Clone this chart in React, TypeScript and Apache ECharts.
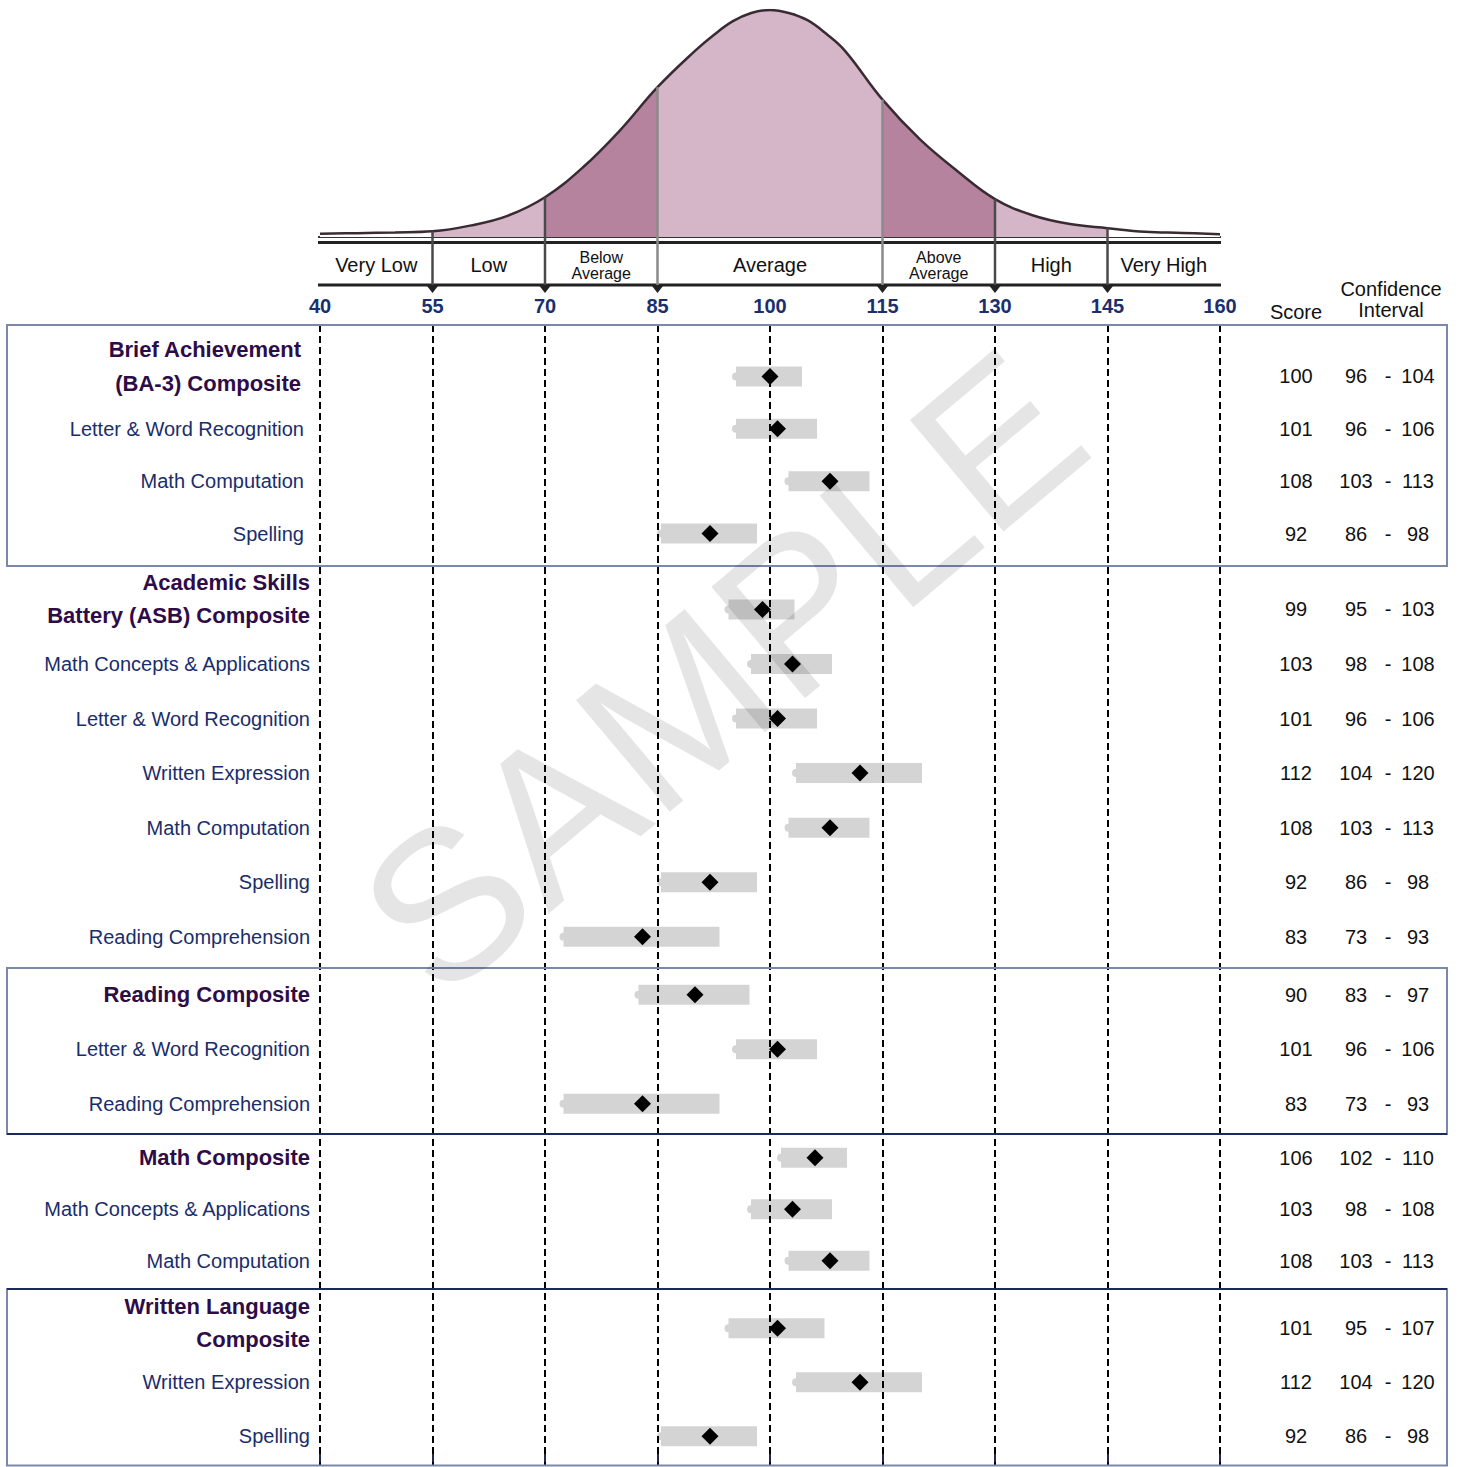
import React, { useEffect, useRef } from 'react';
import * as echarts from 'echarts';

// ---------- data ----------
const rowLabels = [
  'Brief Achievement\n(BA-3) Composite',
  'Letter & Word Recognition',
  'Math Computation',
  'Spelling',
  'Academic Skills\nBattery (ASB) Composite',
  'Math Concepts & Applications',
  'Letter & Word Recognition',
  'Written Expression',
  'Math Computation',
  'Spelling',
  'Reading Comprehension',
  'Reading Composite',
  'Letter & Word Recognition',
  'Reading Comprehension',
  'Math Composite',
  'Math Concepts & Applications',
  'Math Computation',
  'Written Language\nComposite',
  'Written Expression',
  'Spelling',
];
const isComposite = [true, false, false, false, true, false, false, false, false, false, false, true, false, false, true, false, false, true, false, false];
const scores = [100, 101, 108, 92, 99, 103, 101, 112, 108, 92, 83, 90, 101, 83, 106, 103, 108, 101, 112, 92];
const ciLow = [96, 96, 103, 86, 95, 98, 96, 104, 103, 86, 73, 83, 96, 73, 102, 98, 103, 95, 104, 86];
const ciHigh = [104, 106, 113, 98, 103, 108, 106, 120, 113, 98, 93, 97, 106, 93, 110, 108, 113, 107, 120, 98];

// first row of each group, and whether the group is boxed
const groupStarts = [0, 4, 11, 14, 17];
const groupBoxed = [true, false, true, false, true];

// score bands
const bandEdges = [40, 55, 70, 85, 115, 130, 145, 160];
const bandNames = ['Very Low', 'Low', 'Below\nAverage', 'Average', 'Above\nAverage', 'High', 'Very High'];
const dividerScores = [55, 70, 85, 115, 130, 145];

// bell curve heights (percent of peak)
const curveScores = [40, 45, 50, 55, 60, 65, 70, 75, 80, 85, 90, 92.5, 95, 97.5, 100, 102.5, 105, 107.5, 110, 115, 120, 125, 130, 135, 140, 145, 150, 155, 160];
const curveHeights = [1.4, 1.7, 2, 2.5, 5, 9.3, 17.5, 30.5, 47, 66, 82, 89, 95, 98.7, 100, 98.7, 95.5, 89.5, 82, 60.5, 43, 29, 16.7, 9.6, 5.7, 3.9, 2.3, 1.8, 1.2];

// ---------- layout (pixels) ----------
const FONT = "'Liberation Sans', Arial, Helvetica, sans-serif";
const LIGHT = '#d5b6c8';
const DARK = '#b6839f';
const BOX = '#7b88aa';
const NAVY = '#1b2a5c';
const PLOT_LEFT = 320;
const PLOT_RIGHT = 245;
const groupGridTop = [350.2, 582.2, 967.6, 1132, 1301.3];
const groupGridHeight = [209.6, 381.8, 163.5, 154.5, 162];
const boxBounds = [325, 566, 968, 1134, 1289, 1465.5];

export default function App() {
  const ref = useRef<HTMLDivElement>(null);

  useEffect(() => {
    const chart = echarts.init(ref.current!, null, { renderer: 'svg' });
    const curveData = curveScores.map((s, i) => [s, curveHeights[i]]);
    const nG = groupStarts.length;
    const groupRows = groupStarts.map((s, k) => {
      const e = k + 1 < nG ? groupStarts[k + 1] : rowLabels.length;
      const arr: number[] = [];
      for (let i = s; i < e; i++) arr.push(i);
      return arr;
    });

    const labelFormatter = (v: string) => {
      const k = Number(v);
      const first = k < groupStarts[1];
      const last = k >= groupStarts[nG - 1];
      const text = rowLabels[k];
      if (isComposite[k]) {
        const st = first ? 'c1' : 'c';
        if (text.indexOf('\n') >= 0) return `{${st}|${text}}\n{${last ? 'e2' : 'e'}| }`;
        return `{${st}|${text}}`;
      }
      return `{${first ? 's1' : 's'}|${text}}`;
    };
    const tableFormatter = (v: string) => {
      const k = Number(v);
      return `{s|${scores[k]}}{l|${ciLow[k]}}{d|-}{h|${ciHigh[k]}}`;
    };
    const tStyle = { fontSize: 20, color: '#111', fontFamily: FONT, align: 'center' };

    const grids: any[] = [
      { left: PLOT_LEFT, right: PLOT_RIGHT, top: 10, height: 227, outerBoundsMode: 'none' },
      { left: PLOT_LEFT, right: PLOT_RIGHT, top: 325, bottom: 1, outerBoundsMode: 'none' },
    ];
    const xAxes: any[] = [
      { gridIndex: 0, type: 'value', min: 40, max: 160, show: false },
      {
        gridIndex: 1, type: 'value', min: 40, max: 160, interval: 15, position: 'top', offset: -4,
        axisLine: { show: false },
        axisTick: { show: true, length: 8, lineStyle: { color: '#1e2a55', width: 2 } },
        axisLabel: {
          margin: 13, color: '#1b2f6e', fontSize: 20, fontWeight: 'bold', fontFamily: FONT,
          showMinLabel: true, showMaxLabel: true,
        },
        splitLine: { show: true, lineStyle: { color: '#000', width: 2, type: [7, 4] } },
      },
    ];
    const yAxes: any[] = [
      { gridIndex: 0, type: 'value', min: 0, max: 100, show: false },
      { gridIndex: 1, type: 'value', min: 0, max: 1, show: false },
    ];
    const series: any[] = [
      {
        type: 'line', xAxisIndex: 0, yAxisIndex: 0, data: curveData, smooth: 0.4, symbol: 'none',
        lineStyle: { width: 0 }, areaStyle: { opacity: 1 }, z: 1, silent: true,
      },
      {
        type: 'line', xAxisIndex: 0, yAxisIndex: 0, data: curveData, smooth: 0.4, symbol: 'none',
        lineStyle: { color: '#3a2b33', width: 2.5 }, itemStyle: { color: '#3a2b33' }, z: 3, silent: true,
      },
    ];

    groupRows.forEach((rows, k) => {
      const gi = 2 + k;
      const cats = rows.map(String);
      grids.push({ left: PLOT_LEFT, right: PLOT_RIGHT, top: groupGridTop[k], height: groupGridHeight[k], outerBoundsMode: 'none' });
      xAxes.push({ gridIndex: gi, type: 'value', min: 40, max: 160, show: false });
      const yl = yAxes.length;
      yAxes.push({
        gridIndex: gi, type: 'category', data: cats, inverse: true,
        axisLine: { show: false }, axisTick: { show: false }, splitLine: { show: false },
        axisLabel: {
          interval: 0, margin: 10, formatter: labelFormatter,
          rich: {
            c: { fontSize: 22, fontWeight: 'bold', color: '#2e0c47', lineHeight: 33, fontFamily: FONT },
            c1: { fontSize: 22, fontWeight: 'bold', color: '#2e0c47', lineHeight: 34, fontFamily: FONT, padding: [0, 9, 0, 0] },
            s: { fontSize: 20, color: '#1a2d6b', lineHeight: 24, fontFamily: FONT },
            s1: { fontSize: 20, color: '#1a2d6b', lineHeight: 24, fontFamily: FONT, padding: [0, 6, 0, 0] },
            e: { fontSize: 1, lineHeight: 20 },
            e2: { fontSize: 1, lineHeight: 10 },
          },
        },
      });
      yAxes.push({
        gridIndex: gi, type: 'category', data: cats, inverse: true, position: 'right',
        axisLine: { show: false }, axisTick: { show: false }, splitLine: { show: false },
        axisLabel: {
          interval: 0, margin: 46, formatter: tableFormatter,
          rich: {
            s: { ...tStyle, width: 60 },
            l: { ...tStyle, width: 60 },
            d: { ...tStyle, width: 4 },
            h: { ...tStyle, width: 56 },
          },
        },
      });
      series.push({
        type: 'custom', xAxisIndex: gi, yAxisIndex: yl,
        data: rows.map((i, j) => [ciLow[i], ciHigh[i], j]),
        encode: { x: [0, 1], y: 2 },
        renderItem: (params: any, api: any) => {
          const a = api.coord([api.value(0), api.value(2)]);
          const b = api.coord([api.value(1), api.value(2)]);
          const h = 20;
          const x0 = a[0] - 4;
          return {
            type: 'group',
            children: [
              { type: 'rect', shape: { x: x0, y: a[1] - h / 2, width: b[0] - x0 + 2, height: h }, style: { fill: 'rgba(0,0,0,0.17)' } },
              { type: 'sector', shape: { cx: x0, cy: a[1], r0: 0, r: 4, startAngle: Math.PI / 2, endAngle: (Math.PI * 3) / 2, clockwise: true }, style: { fill: 'rgba(0,0,0,0.17)' } },
            ],
          };
        },
        z: 2,
      });
      series.push({
        type: 'scatter', xAxisIndex: gi, yAxisIndex: yl,
        data: rows.map((i, j) => [scores[i], j]),
        symbol: 'diamond', symbolSize: 17, itemStyle: { color: '#000', opacity: 1 }, z: 5,
      });
    });

    const option: any = {
      animation: false,
      textStyle: { fontFamily: FONT },
      grid: grids,
      xAxis: xAxes,
      yAxis: yAxes,
      visualMap: {
        type: 'piecewise', show: false, seriesIndex: 0, dimension: 0,
        pieces: [
          { gte: 40, lt: 55, color: '#ffffff' },
          { gte: 55, lt: 70, color: LIGHT },
          { gte: 70, lt: 85, color: DARK },
          { gte: 85, lt: 115, color: LIGHT },
          { gte: 115, lt: 130, color: DARK },
          { gte: 130, lt: 145, color: LIGHT },
          { gte: 145, lte: 160, color: '#ffffff' },
        ],
      },
      series,
    };
    chart.setOption(option);

    // ----- decorations positioned through the library's scales -----
    const xPix = (s: number) => chart.convertToPixel({ xAxisIndex: 0 } as any, s) as number;
    const curvePix = (s: number) => {
      const k = curveScores.indexOf(s);
      return chart.convertToPixel({ xAxisIndex: 0, yAxisIndex: 0 } as any, [s, curveHeights[k]]) as number[];
    };

    const xL = xPix(40) - 2;
    const xR = xPix(160) + 1;
    const g: any[] = [];

    g.push({ type: 'line', shape: { x1: xL, y1: 237, x2: xR, y2: 237 }, style: { stroke: '#333', lineWidth: 2 } });
    g.push({ type: 'line', shape: { x1: xL, y1: 242.5, x2: xR, y2: 242.5 }, style: { stroke: '#222', lineWidth: 3 } });
    g.push({ type: 'line', shape: { x1: xL, y1: 285, x2: xR, y2: 285 }, style: { stroke: '#222', lineWidth: 3 } });

    dividerScores.forEach((s) => {
      const p = curvePix(s);
      const light = s === 85 || s === 115;
      g.push({ type: 'line', z: 4, shape: { x1: p[0], y1: p[1], x2: p[0], y2: 285 }, style: { stroke: light ? '#8a8a8a' : '#4a4a4a', lineWidth: 2.5 } });
      g.push({ type: 'polygon', shape: { points: [[p[0] - 5.5, 286], [p[0] + 5.5, 286], [p[0], 293]] }, style: { fill: '#222' } });
    });

    bandNames.forEach((name, i) => {
      const cx = xPix((bandEdges[i] + bandEdges[i + 1]) / 2);
      const two = name.indexOf('\n') >= 0;
      g.push({
        type: 'text', x: cx, y: 265,
        style: {
          text: name, fill: '#111', fontFamily: FONT, fontSize: two ? 16 : 20, lineHeight: two ? 16 : 22,
          textAlign: 'center', textVerticalAlign: 'middle',
        },
      });
    });

    g.push({ type: 'text', x: 1296, y: 312, style: { text: 'Score', fill: '#111', fontFamily: FONT, fontSize: 20, textAlign: 'center', textVerticalAlign: 'middle' } });
    g.push({ type: 'text', x: 1391, y: 299, style: { text: 'Confidence\nInterval', fill: '#111', fontFamily: FONT, fontSize: 20, lineHeight: 21, textAlign: 'center', textVerticalAlign: 'middle' } });

    groupStarts.forEach((_, k) => {
      if (groupBoxed[k]) {
        g.push({ type: 'rect', shape: { x: 7, y: boxBounds[k], width: 1440, height: boxBounds[k + 1] - boxBounds[k] }, style: { fill: 'none', stroke: BOX, lineWidth: 2 } });
      }
    });
    [3, 4].forEach((k) => {
      g.push({ type: 'line', shape: { x1: 7, y1: boxBounds[k], x2: 1447, y2: boxBounds[k] }, style: { stroke: NAVY, lineWidth: 2 } });
    });

    g.push({
      type: 'text', x: 722, y: 672, rotation: (40 * Math.PI) / 180, z: 100, silent: true,
      style: { text: 'SAMPLE', fill: 'rgba(0,0,0,0.1)', fontFamily: FONT, fontSize: 212, textAlign: 'center', textVerticalAlign: 'middle' },
    });

    chart.setOption({ graphic: { elements: g } });

    return () => chart.dispose();
  }, []);

  return <div ref={ref} style={{ position: 'absolute', left: 0, top: 0, width: 1465, height: 1467 }} />;
}
